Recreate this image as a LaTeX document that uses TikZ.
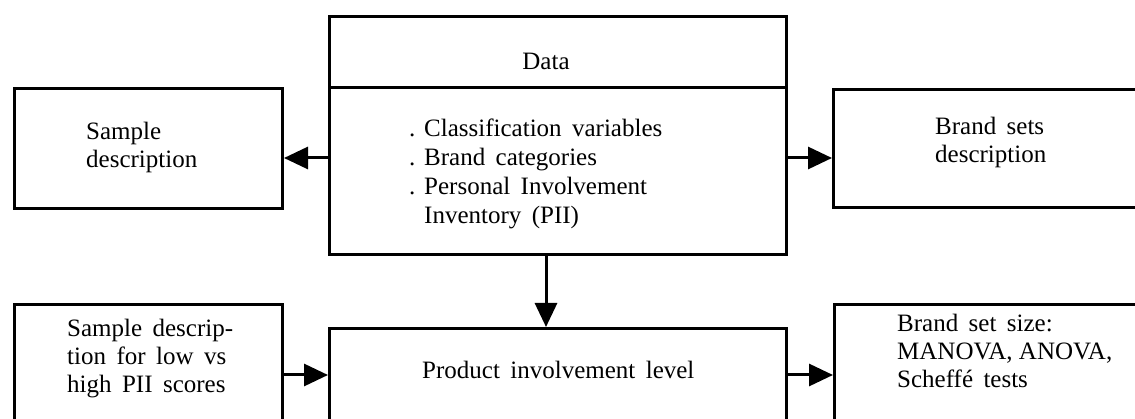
\documentclass[tikz,border=0pt]{standalone}
\usepackage{fontspec}
\setmainfont{Liberation Serif}
\usetikzlibrary{arrows.meta,calc}

\begin{document}
\begin{tikzpicture}[x=1pt,y=-1pt,
  box/.style={draw,line width=3pt,rectangle,inner sep=0pt,anchor=north west},
  txt/.style={inner sep=0pt,anchor=base west,align=left,
    font=\fontsize{25}{28}\selectfont},
  arr/.style={line width=3pt,-{Triangle[length=24pt,width=22pt]}}]
\useasboundingbox (0,0) rectangle (1135,419);
\clip (0,0) rectangle (1135,419);

% boxes (the right and bottom ones run past the frame)
\node[box,minimum width=268pt,minimum height=120pt] (sd) at (13,87) {};
\node[box,minimum width=457pt,minimum height=238pt] (data) at (328,15) {};
\node[box,minimum width=360pt,minimum height=118pt] (bs) at (832,88) {};
\node[box,minimum width=268pt,minimum height=160pt] (sl) at (13,303) {};
\node[box,minimum width=457pt,minimum height=160pt] (pil) at (328,327) {};
\node[box,minimum width=360pt,minimum height=160pt] (bss) at (833,303) {};

% divider under the heading of the data box
\coordinate (div) at (0,88);
\draw[line width=3pt] (data.west |- div) -- (data.east |- div);

% texts (anchored at the baseline of their last line)
\newcommand{\dotitem}{\makebox[15pt][l]{.}}
\node[txt,anchor=base] (tdata) at (546,70) {Data};
\node[txt,font=\fontsize{25}{29}\selectfont] (tlist) at (409,224)
  {\dotitem Classification\, variables\\
   \dotitem Brand\, categories\\
   \dotitem Personal\, Involvement\\
   \hspace{15pt}Inventory\, (PII)};
\node[txt] (tsd) at (86,168) {Sample\\description};
\node[txt] (tbs) at (935,163) {Brand\, sets\\description};
\node[txt] (tsl) at (67,392) {Sample\, descrip-\\tion\, for\, low\, vs\\high\, PII\, scores};
\node[txt] (tpil) at (422,379) {Product\, involvement\, level};
\node[txt] (tbss) at (897,388) {Brand\, set\, size:\\MANOVA, ANOVA,\\Scheff\'e\, tests};

% connectors
\coordinate (yup) at (0,158);
\coordinate (ylow) at (0,375);
\coordinate (xdown) at (546,0);
\draw[arr] (data.west |- yup) -- (sd.east |- yup);
\draw[arr] (data.east |- yup) -- (bs.west |- yup);
\draw[arr] (data.south -| xdown) -- (pil.north -| xdown);
\draw[arr] (sl.east |- ylow) -- (pil.west |- ylow);
\draw[arr] (pil.east |- ylow) -- (bss.west |- ylow);
\end{tikzpicture}
\end{document}
